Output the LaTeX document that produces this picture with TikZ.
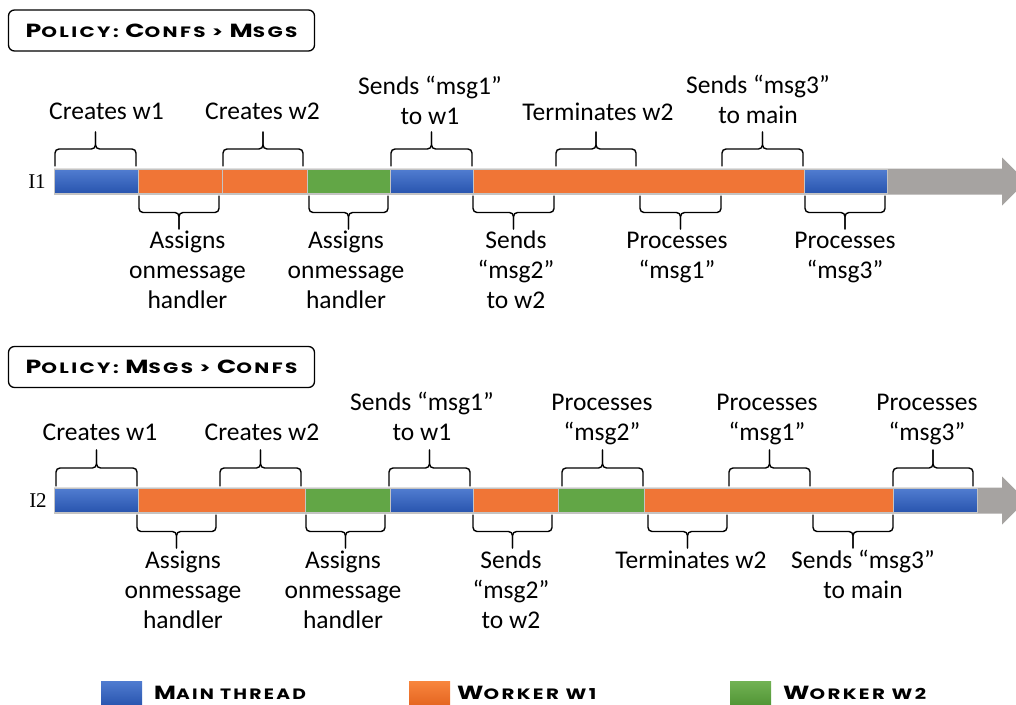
\documentclass[tikz,border=0pt]{standalone}
\usepackage{fontspec}
\setmainfont{Carlito}
\newfontfamily\headfont[LetterSpace=12]{Poppins}
\newfontfamily\idfont{Liberation Serif}

\definecolor{blueTop}{RGB}{80,124,208}
\definecolor{blueBot}{RGB}{40,84,174}
\definecolor{wone}{RGB}{240,117,54}
\definecolor{woneTop}{RGB}{248,134,62}
\definecolor{woneBot}{RGB}{228,100,32}
\definecolor{wtwo}{RGB}{98,166,70}
\definecolor{wtwoTop}{RGB}{114,178,84}
\definecolor{wtwoBot}{RGB}{80,148,52}
\definecolor{track}{RGB}{166,163,161}
\definecolor{segedge}{RGB}{196,196,196}

% big capital inside the small-caps style headings
\newcommand\capl[1]{{\fontsize{19}{20}\selectfont #1}}
% widened small-caps heading text
\newcommand\widecaps[2]{\scalebox{#1}[1]{#2}}

% curly brace: ends at (x1,y) and (x2,y), shoulders offset by dy, tip by 2dy
\newcommand\tlbrace[4]{%
  \draw[bracepath] (#1,#3) -- (#1,#3+#4) -- ({(#1+#2)/2},#3+#4) -- ({(#1+#2)/2},#3+2*#4);
  \draw[bracepath] (#2,#3) -- (#2,#3+#4) -- ({(#1+#2)/2},#3+#4) -- ({(#1+#2)/2},#3+2*#4);
}

\tikzset{
  lbl/.style={font=\fontsize{25.5}{30}\selectfont, align=center, anchor=base, inner sep=0pt},
  bracepath/.style={line width=1.4pt, rounded corners=4pt, line cap=round},
  segline/.style={draw=segedge, line width=0.6pt},
  mainseg/.style={segline, top color=blueTop, bottom color=blueBot},
  w1seg/.style={segline, fill=wone},
  w2seg/.style={segline, fill=wtwo},
  policybox/.style={draw, line width=1.3pt, rounded corners=6pt, minimum width=306pt,
    minimum height=41pt, inner sep=0pt,
    font=\headfont\bfseries\fontsize{15}{16}\selectfont},
  legendtxt/.style={anchor=base west, inner sep=0pt,
    font=\headfont\bfseries\fontsize{15}{16}\selectfont},
  idlbl/.style={font=\idfont\fontsize{21}{22}\selectfont, inner sep=0pt},
}

\begin{document}
\begin{tikzpicture}[x=1pt, y=-1pt]
\useasboundingbox (0,0) rectangle (1016,704);

% ---------------- first interleaving ----------------
\node[policybox] (pol1) at (161.5,30.5) {\widecaps{1.33}{\capl{P}OLICY: \capl{C}ONFS > \capl{M}SGS}};
\node[idlbl] (id1) at (37,181.5) {I1};

\fill[track] (54,168.5) -- (1002,168.5) -- (1002,157.5) -- (1026,181.5)
  -- (1002,205.5) -- (1002,194.5) -- (54,194.5) -- cycle;
\path[mainseg] (54,169.5) rectangle (138,193.5);
\path[w1seg]   (138,169.5) rectangle (222,193.5);
\path[w1seg]   (222,169.5) rectangle (307,193.5);
\path[w2seg]   (307,169.5) rectangle (390,193.5);
\path[mainseg] (390,169.5) rectangle (473,193.5);
\path[w1seg]   (473,169.5) rectangle (804,193.5);
\path[mainseg] (804,169.5) rectangle (887,193.5);

\tlbrace{55}{136}{166}{-17}
\tlbrace{223}{303}{166}{-17}
\tlbrace{391}{472}{166}{-17}
\tlbrace{556}{636}{166}{-17}
\tlbrace{722}{803}{166}{-17}

\tlbrace{139}{219}{196}{16.5}
\tlbrace{309}{388}{196}{16.5}
\tlbrace{473}{554}{196}{16.5}
\tlbrace{640}{721}{196}{16.5}
\tlbrace{805}{885}{196}{16.5}

\node[lbl] (t1a) at (106.5,119) {Creates w1};
\node[lbl] (t1b) at (262.5,119) {Creates w2};
\node[lbl] (t1c) at (430,124) {Sends “msg1”\\to w1};
\node[lbl] (t1d) at (598,120) {Terminates w2};
\node[lbl] (t1e) at (758,123) {Sends “msg3”\\to main};

\node[lbl] (b1a) at (187.5,308) {Assigns\\onmessage\\handler};
\node[lbl] (b1b) at (346,308) {Assigns\\onmessage\\handler};
\node[lbl] (b1c) at (516,308) {Sends\\“msg2”\\to w2};
\node[lbl] (b1d) at (677,278) {Processes\\“msg1”};
\node[lbl] (b1e) at (845,278) {Processes\\“msg3”};

% ---------------- second interleaving ----------------
\node[policybox] (pol2) at (161.5,367) {\widecaps{1.33}{\capl{P}OLICY: \capl{M}SGS > \capl{C}ONFS}};
\node[idlbl] (id2) at (38,500.5) {I2};

\fill[track] (54,487.5) -- (1002,487.5) -- (1002,476.5) -- (1026,500.5)
  -- (1002,524.5) -- (1002,513.5) -- (54,513.5) -- cycle;
\path[mainseg] (54,488.5) rectangle (138,512.5);
\path[w1seg]   (138,488.5) rectangle (305,512.5);
\path[w2seg]   (305,488.5) rectangle (390,512.5);
\path[mainseg] (390,488.5) rectangle (473,512.5);
\path[w1seg]   (473,488.5) rectangle (558,512.5);
\path[w2seg]   (558,488.5) rectangle (644,512.5);
\path[w1seg]   (644,488.5) rectangle (893,512.5);
\path[mainseg] (893,488.5) rectangle (977,512.5);

\tlbrace{56}{137}{486}{-18}
\tlbrace{220}{301}{486}{-18}
\tlbrace{389}{470}{486}{-18}
\tlbrace{562}{643}{486}{-18}
\tlbrace{729}{810}{486}{-18}
\tlbrace{893}{973}{486}{-18}

\tlbrace{137}{216}{515}{16.5}
\tlbrace{306}{385}{515}{16.5}
\tlbrace{473}{552}{515}{16.5}
\tlbrace{648}{727}{515}{16.5}
\tlbrace{813}{893}{515}{16.5}

\node[lbl] (t2a) at (100,440) {Creates w1};
\node[lbl] (t2b) at (262,440) {Creates w2};
\node[lbl] (t2c) at (422,440) {Sends “msg1”\\to w1};
\node[lbl] (t2d) at (602,440) {Processes\\“msg2”};
\node[lbl] (t2e) at (767,440) {Processes\\“msg1”};
\node[lbl] (t2f) at (927,440) {Processes\\“msg3”};

\node[lbl] (b2a) at (183,628) {Assigns\\onmessage\\handler};
\node[lbl] (b2b) at (343,628) {Assigns\\onmessage\\handler};
\node[lbl] (b2c) at (511,628) {Sends\\“msg2”\\to w2};
\node[lbl] (b2d) at (691,568) {Terminates w2};
\node[lbl] (b2e) at (863,598) {Sends “msg3”\\to main};

% ---------------- legend ----------------
\path[top color=blueTop, bottom color=blueBot] (101,681) rectangle (142,706);
\node[legendtxt] (lg1) at (154,699) {\widecaps{1.25}{\capl{M}AIN THREAD}};
\path[top color=woneTop, bottom color=woneBot] (409,681) rectangle (450,706);
\node[legendtxt] (lg2) at (457,699) {\widecaps{1.32}{\capl{W}ORKER W1}};
\path[top color=wtwoTop, bottom color=wtwoBot] (730,681) rectangle (771,706);
\node[legendtxt] (lg3) at (783,699) {\widecaps{1.32}{\capl{W}ORKER W2}};
\end{tikzpicture}
\end{document}
